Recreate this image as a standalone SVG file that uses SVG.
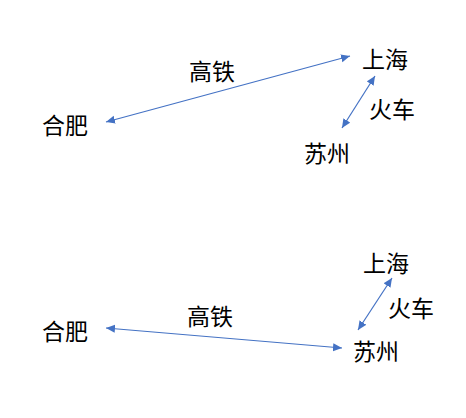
<svg xmlns="http://www.w3.org/2000/svg" width="466" height="418" viewBox="0 0 466 418">
<style>
text{font-family:"Noto Sans CJK SC","Noto Sans",sans-serif;font-size:23px;fill:#000;text-anchor:middle;dominant-baseline:central}
.c{stroke:#4472C4;stroke-width:1.2;fill:none}
</style>
<defs>
<marker id="a" viewBox="0 0 10 10" refX="10" refY="5" markerWidth="9" markerHeight="9" markerUnits="userSpaceOnUse" orient="auto-start-reverse">
<path d="M0,0.5 L10,5 L0,9.5 Z" fill="#4472C4"/>
</marker>
</defs>
<rect width="466" height="418" fill="#fff"/>
<g id="connectors">
<line class="c" x1="106" y1="122" x2="350" y2="56" marker-start="url(#a)" marker-end="url(#a)"/>
<line class="c" x1="375" y1="76" x2="342" y2="128" marker-start="url(#a)" marker-end="url(#a)"/>
<line class="c" x1="106" y1="328" x2="342" y2="348" marker-start="url(#a)" marker-end="url(#a)"/>
<line class="c" x1="392" y1="278" x2="358" y2="330" marker-start="url(#a)" marker-end="url(#a)"/>
</g>
<g id="top-hefei"><text x="65" y="124">合肥</text></g>
<g id="top-shanghai"><text x="385" y="58">上海</text></g>
<g id="top-suzhou"><text x="327" y="152">苏州</text></g>
<g id="top-gaotie"><text x="212" y="70">高铁</text></g>
<g id="top-huoche"><text x="392" y="108">火车</text></g>
<g id="bot-hefei"><text x="65" y="330">合肥</text></g>
<g id="bot-shanghai"><text x="386" y="262">上海</text></g>
<g id="bot-suzhou"><text x="376" y="350">苏州</text></g>
<g id="bot-gaotie"><text x="210" y="315">高铁</text></g>
<g id="bot-huoche"><text x="411" y="307">火车</text></g>
</svg>
